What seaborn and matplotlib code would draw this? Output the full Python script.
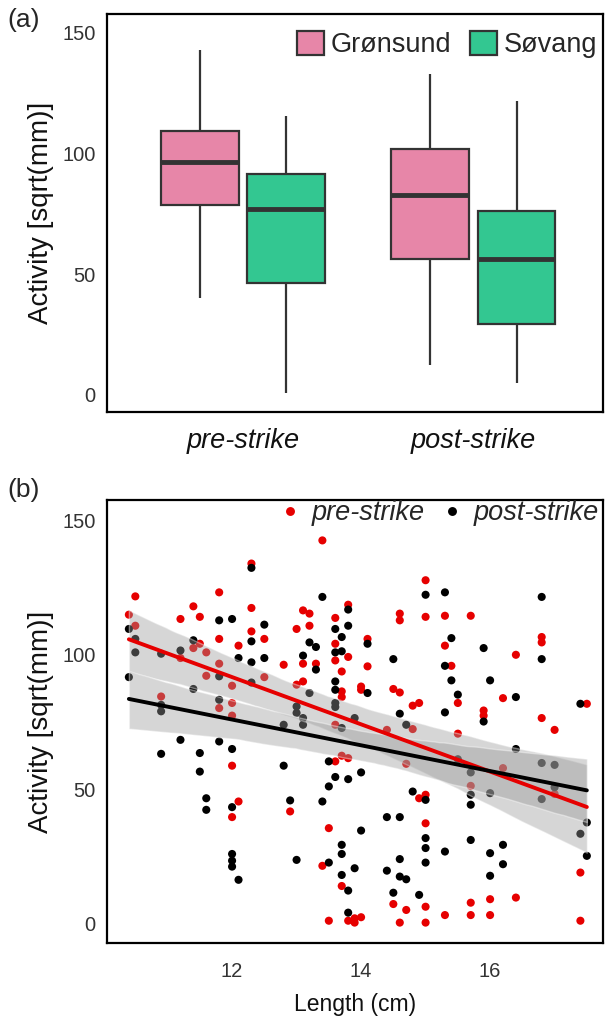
import numpy as np
import pandas as pd
import seaborn as sns
import matplotlib.pyplot as plt

# (a) box summaries per group: lower whisker, Q1, median, Q3, upper whisker
phases = ['pre-strike', 'post-strike']
sites = ['Grønsund', 'Søvang']
gron_pre = [40.0, 78.5, 96.4, 109.3, 143.0]
sov_pre = [0.8, 46.5, 76.9, 91.4, 115.4]
gron_post = [12.3, 56.2, 82.7, 101.6, 132.7]
sov_post = [4.7, 29.3, 56.4, 76.0, 121.8]

# (b) length (cm) and activity per fish
pre_len = [12.3, 10.5, 11.8, 11.4, 12.3, 10.4, 11.2, 11.5, 10.5, 12.3, 12.5, 11.8, 11.5, 12.1,
           11.4, 11.6, 11.2, 11.8, 11.6, 12.5, 12.0, 10.9, 12.0, 11.8, 12.0, 12.0, 12.1, 12.0,
           13.4, 15.0, 13.8, 13.1, 13.2, 14.6, 14.6, 15.0, 13.6, 13.2, 13.0, 14.1, 13.6, 13.8,
           13.6, 12.8, 13.1, 13.3, 13.7, 14.1, 13.1, 13.0, 14.0, 14.0, 13.7, 13.7, 14.5, 14.6,
           14.9, 14.8, 13.6, 14.8, 14.4, 13.6, 13.7, 13.8, 14.7, 14.9, 15.0, 12.9, 15.0, 13.5,
           13.4, 13.7, 14.5, 14.7, 15.0, 13.5, 13.8, 13.9, 14.0, 13.9, 14.6, 15.0, 15.3, 15.7,
           15.3, 16.8, 16.8, 16.4, 15.4, 16.2, 15.5, 17.5, 15.9, 15.9, 16.8, 17.0, 15.5, 16.2,
           17.0, 15.7, 17.4, 16.4, 16.0, 15.7, 15.3, 15.7, 16.0, 17.4]
pre_act = [133.9, 121.7, 123.2, 118.0, 117.4, 114.9, 113.3, 114.1, 110.8, 108.7, 105.9, 105.9,
           104.1, 103.4, 102.5, 100.9, 98.8, 96.7, 92.2, 91.7, 88.5, 84.5, 82.1, 80.2, 77.4,
           58.8, 45.5, 39.7, 142.5, 127.7, 118.6, 116.5, 115.3, 115.3, 112.8, 114.1, 113.7,
           110.8, 109.6, 105.9, 104.1, 99.2, 97.9, 96.3, 96.7, 96.7, 93.8, 95.7, 90.1, 88.9,
           88.2, 87.0, 86.4, 84.3, 87.3, 86.0, 82.1, 81.1, 74.0, 72.4, 72.1, 60.4, 62.5, 61.6,
           59.5, 46.7, 48.0, 41.8, 37.4, 35.6, 21.6, 14.1, 7.4, 5.2, 6.4, 1.2, 1.2, 2.1, 2.5,
           0.5, 0.5, 0.5, 114.5, 114.5, 103.4, 106.6, 104.6, 100.0, 95.9, 83.9, 82.1, 81.8,
           79.3, 77.4, 76.5, 72.1, 70.7, 57.9, 48.3, 51.3, 19.1, 9.8, 9.2, 7.9, 3.3, 3.3, 3.3,
           1.2]
post_len = [12.3, 11.8, 12.0, 12.5, 10.4, 10.5, 11.4, 12.3, 10.5, 11.2, 10.9, 12.1, 12.5, 12.3,
            11.8, 10.4, 12.3, 11.4, 11.8, 10.9, 10.9, 11.2, 11.8, 10.9, 11.5, 12.0, 11.5, 11.6,
            11.6, 12.0, 12.0, 12.0, 12.0, 12.1, 15.0, 13.4, 13.8, 13.6, 13.8, 13.7, 14.1, 13.2,
            13.3, 13.6, 13.7, 13.1, 14.5, 13.3, 13.6, 13.6, 13.2, 14.1, 13.6, 13.6, 13.0, 13.0,
            13.1, 14.6, 13.9, 13.1, 12.8, 13.7, 14.7, 13.5, 12.8, 13.6, 13.8, 14.0, 13.5, 14.8,
            15.0, 12.9, 13.4, 14.4, 14.6, 14.0, 15.0, 13.7, 15.0, 13.7, 13.0, 14.6, 13.5, 13.9,
            15.0, 14.4, 14.6, 14.7, 13.7, 13.8, 14.5, 14.9, 13.8, 15.3, 16.8, 15.4, 15.9, 16.8,
            15.3, 15.4, 16.0, 15.5, 16.4, 17.4, 15.3, 15.9, 16.4, 16.8, 17.0, 15.7, 15.5, 17.0,
            15.7, 16.0, 16.8, 15.7, 17.5, 17.4, 15.7, 15.3, 16.2, 16.0, 16.2, 17.5, 16.0]
post_act = [132.3, 112.8, 113.3, 111.2, 109.6, 105.9, 105.4, 105.0, 100.9, 101.6, 100.4, 98.8,
            98.8, 97.2, 92.0, 91.7, 89.7, 87.3, 83.3, 81.4, 79.0, 68.4, 67.8, 63.2, 63.5, 65.0,
            56.6, 46.7, 42.4, 43.4, 26.0, 23.5, 21.3, 16.4, 122.3, 121.5, 116.8, 109.6, 110.8,
            106.6, 104.1, 104.6, 102.9, 100.9, 101.3, 99.7, 98.4, 94.5, 90.1, 87.0, 85.8, 85.8,
            82.1, 80.6, 80.8, 78.4, 76.5, 78.1, 76.5, 74.0, 74.0, 72.8, 74.0, 60.4, 58.8, 54.6,
            53.8, 56.3, 51.1, 49.2, 46.1, 45.9, 45.5, 39.7, 39.7, 34.7, 31.9, 29.4, 28.2, 26.0,
            23.8, 24.1, 22.8, 20.7, 22.8, 19.8, 17.6, 16.6, 18.2, 12.4, 11.6, 10.8, 4.2, 123.2,
            121.5, 106.2, 102.5, 98.4, 95.9, 90.5, 90.5, 85.2, 84.3, 81.8, 78.6, 75.2, 65.0,
            59.8, 59.1, 56.3, 61.2, 50.8, 48.0, 48.6, 46.4, 44.3, 37.7, 33.5, 31.2, 26.9, 29.4,
            26.3, 22.2, 25.3, 17.9]

box_colors = ['#E786A8', '#33C791']
pre_col = '#E60000'
post_col = '#000000'

rows = []
for ph, g, s in zip(phases, [gron_pre, gron_post], [sov_pre, sov_post]):
    rows += [(ph, sites[0], v) for v in g]
    rows += [(ph, sites[1], v) for v in s]
box_df = pd.DataFrame(rows, columns=['phase', 'site', 'activity'])

pts = pd.DataFrame({
    'length': pre_len + post_len,
    'activity': pre_act + post_act,
    'phase': ['pre-strike'] * len(pre_len) + ['post-strike'] * len(post_len),
})

sns.set_style('white')
plt.rcParams['font.family'] = ['Liberation Sans', 'DejaVu Sans']

fig = plt.figure(figsize=(6.06, 10.19), dpi=100)
ax1 = fig.add_axes([0.177, 0.596, 0.818, 0.390])
ax2 = fig.add_axes([0.177, 0.0746, 0.818, 0.4347])

# panel (a)
sns.boxplot(data=box_df, x='phase', y='activity', hue='site', order=phases, hue_order=sites,
            palette=box_colors, width=0.75, gap=0.1, whis=(0, 100), showcaps=False,
            linewidth=1.6, linecolor='#333333', saturation=1,
            medianprops=dict(linewidth=3.5, color='#333333'), ax=ax1)
ax1.set_xlim(-0.59, 1.563)
ax1.set_ylim(-7, 157.6)
ax1.set_yticks([0, 50, 100, 150])
ax1.set_xlabel('')
ax1.set_ylabel('Activity [sqrt(mm)]', fontsize=20, color='#111111', labelpad=6)
ax1.tick_params(axis='x', labelsize=19.5, length=5, width=1.2, pad=7,
                color='#333333', labelcolor='#111111')
ax1.tick_params(axis='y', labelsize=14.5, length=5, width=1.2, color='#333333',
                labelcolor='#333333')
for lab in ax1.get_xticklabels():
    lab.set_fontstyle('italic')
sns.move_legend(ax1, 'upper right', ncol=2, frameon=False, title=None, fontsize=19.5,
                handlelength=1.0, handleheight=1.0, columnspacing=0.7, handletextpad=0.25,
                bbox_to_anchor=(1.038, 1.02))

# panel (b)
sns.scatterplot(data=pts, x='length', y='activity', hue='phase', hue_order=phases,
                palette=[pre_col, post_col], s=34, linewidth=0, ax=ax2)
for xs, ys, col in [(pre_len, pre_act, pre_col), (post_len, post_act, post_col)]:
    sns.regplot(x=xs, y=ys, scatter=False, color=col, seed=0, ax=ax2,
                line_kws=dict(linewidth=2.8))
    band = ax2.collections[-1]
    band.set_facecolor('#999999')
    band.set_alpha(0.4)
ax2.set_xlim(10.065, 17.75)
ax2.set_ylim(-7.07, 157.5)
ax2.set_xticks([12, 14, 16])
ax2.set_yticks([0, 50, 100, 150])
ax2.set_xlabel('Length (cm)', fontsize=16.5, color='#111111', labelpad=8)
ax2.set_ylabel('Activity [sqrt(mm)]', fontsize=20, color='#111111', labelpad=6)
ax2.tick_params(axis='both', labelsize=14.5, length=5, width=1.2, color='#333333',
                labelcolor='#333333')
ax2.tick_params(axis='x', pad=9)
sns.move_legend(ax2, 'upper right', ncol=2, frameon=False, title=None,
                prop=dict(style='italic', size=19.5), handlelength=1.0, handletextpad=0.3,
                columnspacing=0.5, markerscale=1.1, bbox_to_anchor=(1.04, 1.055))

for ax in (ax1, ax2):
    for sp in ax.spines.values():
        sp.set_visible(True)
        sp.set_color('black')
        sp.set_linewidth(1.6)

fig.text(0.012, 0.980, '(a)', fontsize=19, va='center')
fig.text(0.012, 0.519, '(b)', fontsize=19, va='center')

fig.savefig('out.png', dpi=100)
